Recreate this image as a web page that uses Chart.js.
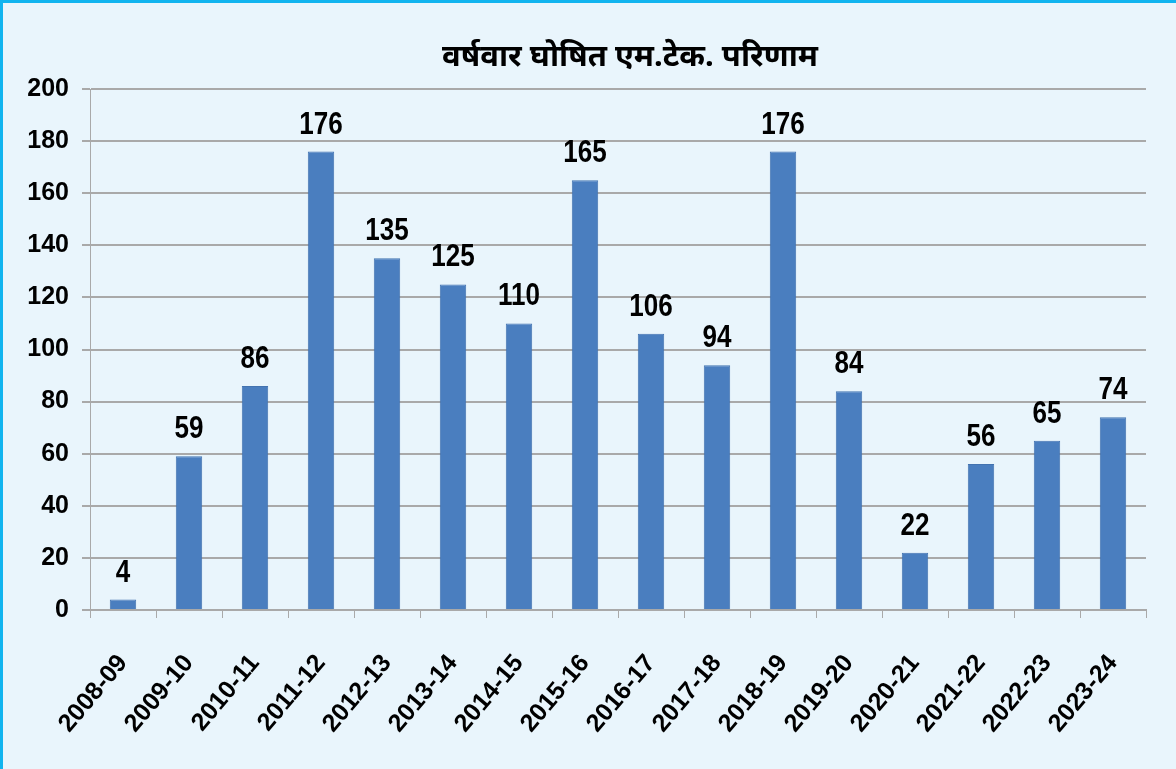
<!DOCTYPE html>
<html>
<head>
<meta charset="utf-8">
<script src="https://cdn.jsdelivr.net/npm/chart.js@4"></script>
<style>
  html, body { margin: 0; padding: 0; background: #e9f5fc; }
  #wrap {
    position: absolute; left: 0; top: 0; width: 1173px; height: 766px;
    border-left: 3px solid #11b4ef; border-top: 3px solid #11b4ef;
    background: #e9f5fc;
  }
  #title {
    position: absolute; left: 627px; top: 31px; transform: translateX(-50%);
    white-space: nowrap; font: bold 31px "Noto Sans", sans-serif; color: #000;
    line-height: 40px;
  }
  canvas { position: absolute; left: 0; top: 0; }
</style>
</head>
<body>
<div id="wrap">
  <canvas id="resultChart" width="1173" height="766"></canvas>
  <div id="title">वर्षवार घोषित एम.टेक. परिणाम</div>
</div>
<script>
var years = ['2008-09', '2009-10', '2010-11', '2011-12', '2012-13', '2013-14', '2014-15', '2015-16',
             '2016-17', '2017-18', '2018-19', '2019-20', '2020-21', '2021-22', '2022-23', '2023-24'];
var results = [4, 59, 86, 176, 135, 125, 110, 165, 106, 94, 176, 84, 22, 56, 65, 74];
var yTicks = [0, 20, 40, 60, 80, 100, 120, 140, 160, 180, 200];

var barBlue = '#4a7ebf';
var gridGray = '#a9a9a9';
var sans = '"Liberation Sans", Arial, sans-serif';

// value labels over the bars, squeezed a bit to look like a condensed face
var valueLabels = {
  id: 'valueLabels',
  afterDatasetsDraw: function (chart) {
    var ctx = chart.ctx;
    var meta = chart.getDatasetMeta(0);
    meta.data.forEach(function (bar, i) {
      ctx.save();
      ctx.translate(bar.x, bar.y - 18);
      ctx.scale(0.84, 1);
      ctx.font = 'bold 31px ' + sans;
      ctx.fillStyle = '#000';
      ctx.textAlign = 'center';
      ctx.textBaseline = 'alphabetic';
      ctx.fillText(results[i], 0, 0);
      ctx.restore();
    });
  }
};

var ctx = document.getElementById('resultChart');
new Chart(ctx, {
  type: 'bar',
  data: {
    labels: years,
    datasets: [{
      data: results,
      backgroundColor: barBlue,
      borderColor: '#4373b0',
      borderWidth: 1,
      barPercentage: 0.4,
      categoryPercentage: 1.0
    }]
  },
  options: {
    responsive: false,
    animation: false,
    layout: { padding: { left: 0, right: 30, top: 86, bottom: 0 } },
    plugins: {
      legend: { display: false },
      tooltip: { enabled: false },
      title: { display: false }
    },
    scales: {
      x: {
        afterFit: function (scale) { scale.height = 159; },
        grid: {
          offset: true,
          drawOnChartArea: false,
          drawTicks: true,
          tickLength: 8,
          color: gridGray,
          lineWidth: 1
        },
        border: { color: gridGray, width: 2 },
        ticks: {
          color: '#000',
          minRotation: 50,
          maxRotation: 50,
          padding: 31,
          font: { family: sans, size: 25, weight: 'bold' }
        }
      },
      y: {
        min: 0,
        max: 200,
        afterFit: function (scale) { scale.width = 87; },
        afterBuildTicks: function (scale) {
          scale.ticks = yTicks.map(function (v) { return { value: v }; });
        },
        grid: {
          color: gridGray,
          lineWidth: 2,
          tickLength: 8
        },
        border: { color: gridGray, width: 1 },
        ticks: {
          color: '#000',
          padding: 13,
          font: { family: sans, size: 25, weight: 'bold' }
        }
      }
    }
  },
  plugins: [valueLabels]
});
</script>
</body>
</html>
